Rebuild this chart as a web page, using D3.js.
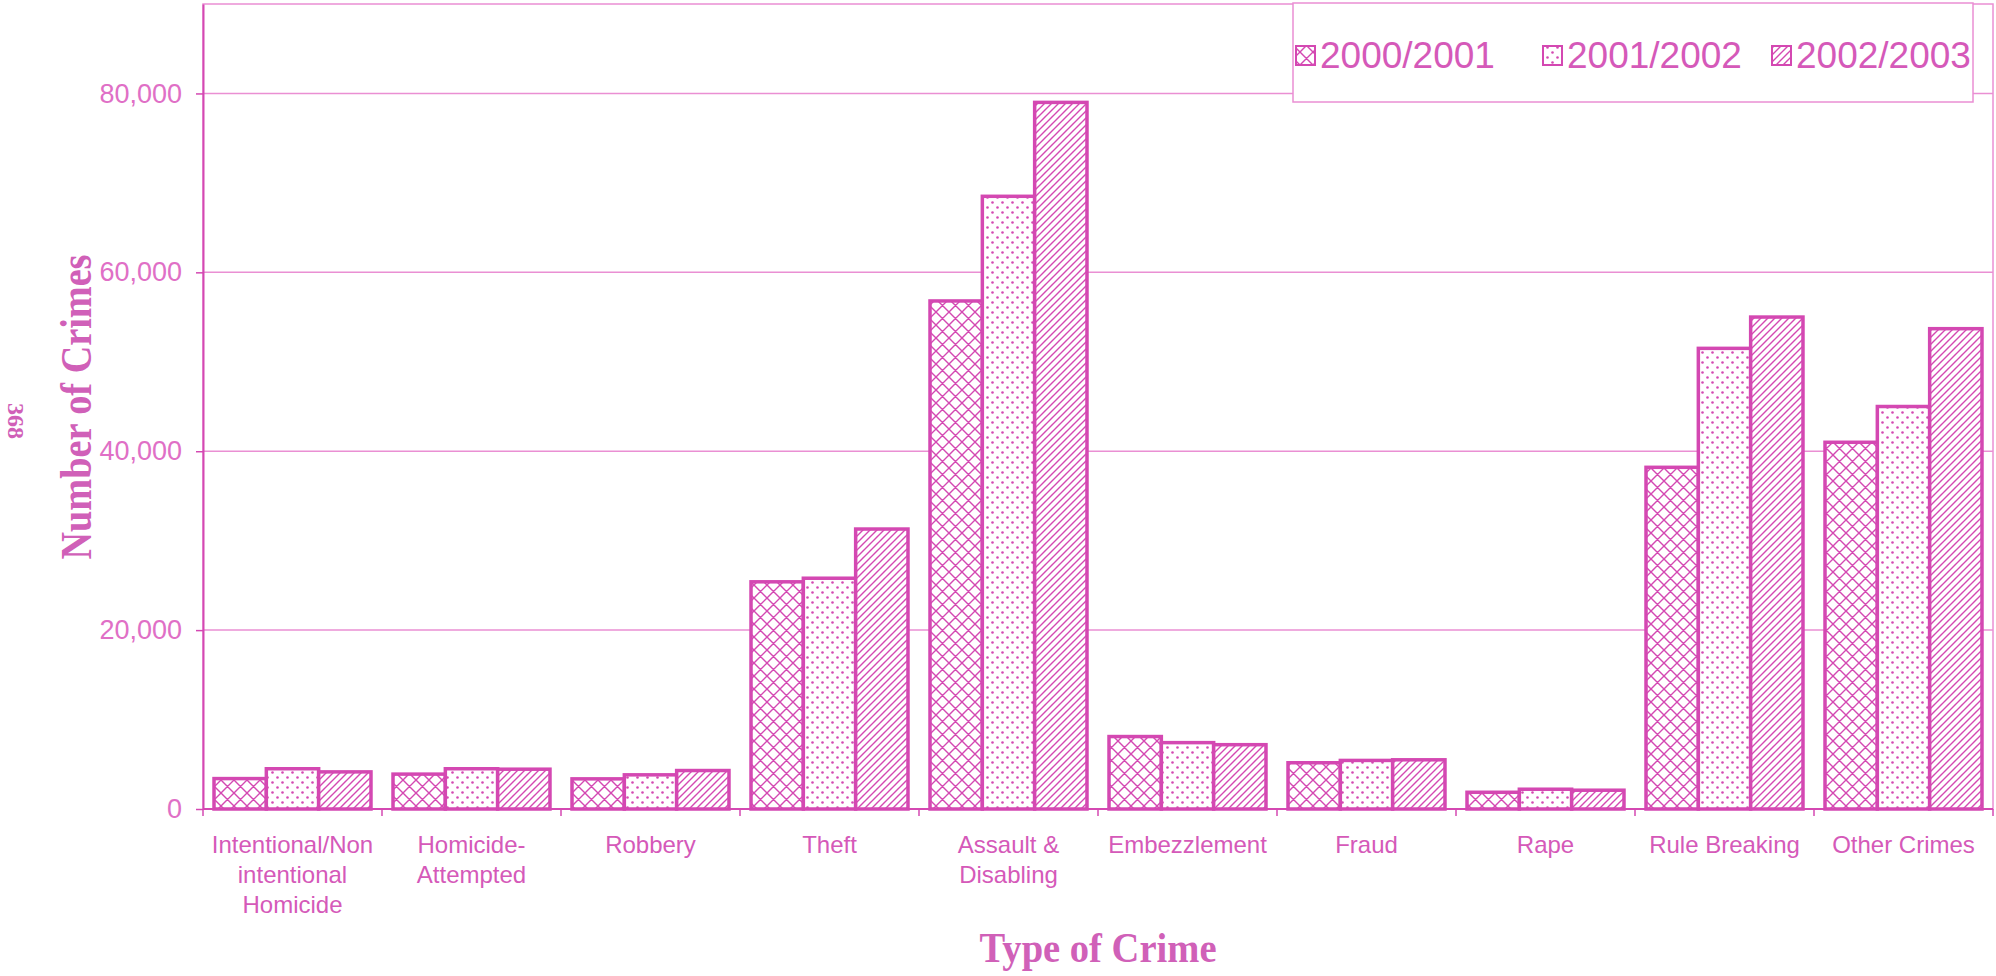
<!DOCTYPE html>
<html>
<head>
<meta charset="utf-8">
<script src="https://cdn.jsdelivr.net/npm/d3@7"></script>
<style>
  html, body { margin: 0; padding: 0; background: #ffffff; }
  svg { display: block; }
</style>
</head>
<body>
<svg id="chart" width="1996" height="976"></svg>
<script>
// ---- Data ----
const categories = [
  "Intentional/Non intentional Homicide",
  "Homicide-Attempted",
  "Robbery",
  "Theft",
  "Assault & Disabling",
  "Embezzlement",
  "Fraud",
  "Rape",
  "Rule Breaking",
  "Other Crimes"
];
const categoryLines = [
  ["Intentional/Non", "intentional", "Homicide"],
  ["Homicide-", "Attempted"],
  ["Robbery"],
  ["Theft"],
  ["Assault &", "Disabling"],
  ["Embezzlement"],
  ["Fraud"],
  ["Rape"],
  ["Rule Breaking"],
  ["Other Crimes"]
];
const seriesNames = ["2000/2001", "2001/2002", "2002/2003"];
const values2000 = [3400, 3900, 3370, 25400, 56800, 8100, 5170, 1870, 38200, 41000];
const values2001 = [4500, 4500, 3820, 25800, 68500, 7420, 5430, 2210, 51500, 45000];
const values2002 = [4150, 4450, 4300, 31300, 79000, 7190, 5500, 2100, 55000, 53700];
const yTicks = [0, 20000, 40000, 60000, 80000];
const yMax = 90000;

const seriesValues = [values2000, values2001, values2002];
const patternIds = ["pat-cross", "pat-dots", "pat-diag"];

// ---- Layout ----
const svg = d3.select("#chart");
const plot = { left: 203, right: 1993, top: 4, bottom: 809 };
const mag = "#d448b2";
const lightMag = "#ea8fd3";
const textMag = "#d559b9";

// ---- Patterns ----
const defs = svg.append("defs");
const pc = defs.append("pattern").attr("id", "pat-cross")
  .attr("patternUnits", "userSpaceOnUse").attr("width", 13).attr("height", 13);
pc.append("rect").attr("width", 13).attr("height", 13).attr("fill", "#fff");
pc.append("path").attr("d", "M0,0 L13,13 M13,0 L0,13 M-1,12 L1,14 M12,-1 L14,1 M-1,1 L1,-1 M12,14 L14,12")
  .attr("stroke", mag).attr("stroke-width", 1.4).attr("fill", "none");
const pd = defs.append("pattern").attr("id", "pat-dots")
  .attr("patternUnits", "userSpaceOnUse").attr("width", 10).attr("height", 10);
pd.append("rect").attr("width", 10).attr("height", 10).attr("fill", "#fff");
pd.append("circle").attr("cx", 2.5).attr("cy", 2.5).attr("r", 1.3).attr("fill", mag);
pd.append("circle").attr("cx", 7.5).attr("cy", 7.5).attr("r", 1.3).attr("fill", mag);
const pg = defs.append("pattern").attr("id", "pat-diag")
  .attr("patternUnits", "userSpaceOnUse").attr("width", 7).attr("height", 7);
pg.append("rect").attr("width", 7).attr("height", 7).attr("fill", "#fff");
pg.append("path").attr("d", "M0,7 L7,0 M-1,1 L1,-1 M6,8 L8,6")
  .attr("stroke", mag).attr("stroke-width", 1.4).attr("fill", "none");

// ---- Scales ----
const x = d3.scaleBand().domain(categories)
  .range([plot.left, plot.right]).paddingInner(0.123).paddingOuter(0.0615);
const xs = d3.scaleBand().domain(seriesNames).range([0, x.bandwidth()]).padding(0);
const y = d3.scaleLinear().domain([0, yMax]).range([plot.bottom, plot.top]);

// ---- Plot frame and gridlines ----
svg.append("rect").attr("x", plot.left).attr("y", plot.top)
  .attr("width", plot.right - plot.left).attr("height", plot.bottom - plot.top)
  .attr("fill", "none").attr("stroke", lightMag).attr("stroke-width", 1.5);

svg.append("g").selectAll("line").data(yTicks.filter(d => d > 0)).join("line")
  .attr("x1", plot.left).attr("x2", plot.right)
  .attr("y1", d => y(d)).attr("y2", d => y(d))
  .attr("stroke", lightMag).attr("stroke-width", 1.5);

// ---- Bars ----
seriesNames.forEach((s, si) => {
  svg.append("g").selectAll("rect").data(categories).join("rect")
    .attr("x", c => x(c) + xs(s))
    .attr("y", (c, i) => y(seriesValues[si][i]))
    .attr("width", xs.bandwidth())
    .attr("height", (c, i) => y(0) - y(seriesValues[si][i]))
    .attr("fill", `url(#${patternIds[si]})`)
    .attr("stroke", mag).attr("stroke-width", 3.5);
});

// ---- Axes ----
const yAxis = d3.axisLeft(y).tickValues(yTicks).tickFormat(d3.format(","))
  .tickSize(7).tickSizeOuter(0).tickPadding(14);
const gy = svg.append("g").attr("transform", `translate(${plot.left},0)`).call(yAxis);
gy.select(".domain").attr("stroke", mag).attr("stroke-width", 2);
gy.selectAll(".tick line").attr("stroke", mag).attr("stroke-width", 1.5);
gy.selectAll(".tick text").attr("fill", "#e06fc6")
  .style("font-family", "'Liberation Sans', Arial, sans-serif").style("font-size", "27px");

const boundaries = d3.range(categories.length + 1).map(i => plot.left + i * x.step());
svg.append("line").attr("x1", plot.left).attr("x2", plot.right)
  .attr("y1", plot.bottom).attr("y2", plot.bottom)
  .attr("stroke", mag).attr("stroke-width", 2);
svg.append("g").selectAll("line").data(boundaries).join("line")
  .attr("x1", d => d).attr("x2", d => d)
  .attr("y1", plot.bottom).attr("y2", plot.bottom + 7)
  .attr("stroke", mag).attr("stroke-width", 1.5);

const xl = svg.append("g");
categories.forEach((c, i) => {
  const t = xl.append("text")
    .attr("x", x(c) + x.bandwidth() / 2)
    .attr("y", 853)
    .attr("text-anchor", "middle")
    .attr("fill", textMag)
    .style("font-family", "'Liberation Sans', Arial, sans-serif")
    .style("font-size", "24px");
  categoryLines[i].forEach((ln, j) => {
    t.append("tspan").attr("x", x(c) + x.bandwidth() / 2).attr("dy", j === 0 ? 0 : 30).text(ln);
  });
});

// ---- Axis titles ----
svg.append("text")
  .attr("transform", "translate(91,407) rotate(-90)")
  .attr("text-anchor", "middle")
  .attr("fill", "#d060b8")
  .attr("textLength", 305).attr("lengthAdjust", "spacingAndGlyphs")
  .style("font-family", "'Liberation Serif', 'Times New Roman', serif")
  .style("font-weight", "bold").style("font-size", "44px")
  .text("Number of Crimes");

svg.append("text")
  .attr("x", 1098).attr("y", 962)
  .attr("text-anchor", "middle")
  .attr("fill", "#d060b8")
  .attr("textLength", 237).attr("lengthAdjust", "spacingAndGlyphs")
  .style("font-family", "'Liberation Serif', 'Times New Roman', serif")
  .style("font-weight", "bold").style("font-size", "42px")
  .text("Type of Crime");

svg.append("text")
  .attr("transform", "translate(8,421) rotate(90)")
  .attr("text-anchor", "middle")
  .attr("fill", "#d060b8")
  .style("font-family", "'Liberation Serif', 'Times New Roman', serif")
  .style("font-weight", "bold").style("font-size", "24px")
  .text("368");

// ---- Legend ----
const lg = svg.append("g");
lg.append("rect").attr("x", 1293).attr("y", 3).attr("width", 680).attr("height", 99)
  .attr("fill", "#fff").attr("stroke", lightMag).attr("stroke-width", 1.5);
const legendX = [1296, 1543, 1772];
seriesNames.forEach((s, si) => {
  lg.append("rect").attr("x", legendX[si]).attr("y", 46).attr("width", 19).attr("height", 19)
    .attr("fill", `url(#${patternIds[si]})`).attr("stroke", mag).attr("stroke-width", 2);
  lg.append("text").attr("x", legendX[si] + 24).attr("y", 68)
    .attr("fill", textMag)
    .style("font-family", "'Liberation Sans', Arial, sans-serif").style("font-size", "37px")
    .text(s);
});
</script>
</body>
</html>
